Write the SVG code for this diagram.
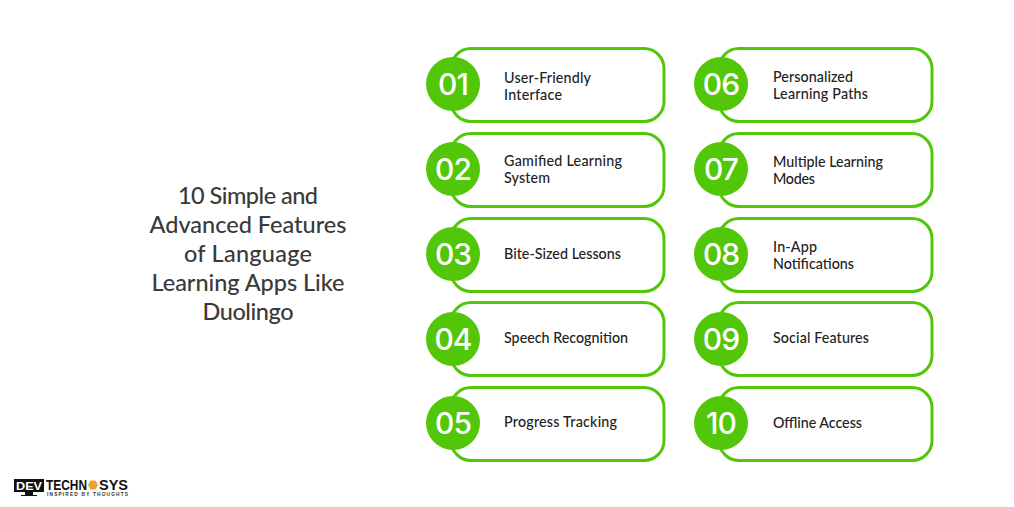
<svg xmlns="http://www.w3.org/2000/svg" width="1014" height="507" viewBox="0 0 1014 507">
<style>
.card{fill:#fff;stroke:#52c70a;stroke-width:3}
.dot{fill:#52c70a}
.num{font:500 30px Inter,"Noto Sans",sans-serif;letter-spacing:-1px;fill:#fff;text-anchor:middle}
.lbl{font:500 14.3px Lato,"Noto Sans",sans-serif;fill:#222}
.ttl{font:500 23.500px Lato,"Noto Sans",sans-serif;fill:#3a3a3a;text-anchor:middle}
.lg{font-family:"Liberation Sans",sans-serif;font-size:14px;font-weight:700;fill:#111}
</style>
<rect width="1014" height="507" fill="#fff"/>
<g id="title"><text class="ttl" x="248" y="204" textLength="140">10 Simple and</text><text class="ttl" x="248" y="233" textLength="197">Advanced Features</text><text class="ttl" x="248" y="262" textLength="128">of Language</text><text class="ttl" x="248" y="291" textLength="193">Learning Apps Like</text><text class="ttl" x="248" y="320" textLength="91">Duolingo</text></g>
<g id="n01"><rect class="card" x="451" y="48.500" width="213" height="73" rx="20"/><circle class="dot" cx="453" cy="84" r="27"/><text class="num" x="453" y="95">01</text><text class="lbl" x="504" y="83" textLength="87">User-Friendly</text><text class="lbl" x="504" y="100" textLength="58">Interface</text></g>
<g id="n02"><rect class="card" x="451" y="133.500" width="213" height="73" rx="20"/><circle class="dot" cx="453" cy="169" r="27"/><text class="num" x="453" y="180">02</text><text class="lbl" x="504" y="166" textLength="118">Gamified Learning</text><text class="lbl" x="504" y="183" textLength="46">System</text></g>
<g id="n03"><rect class="card" x="451" y="218.500" width="213" height="73" rx="20"/><circle class="dot" cx="453" cy="254" r="27"/><text class="num" x="453" y="265">03</text><text class="lbl" x="504" y="259" textLength="117">Bite-Sized Lessons</text></g>
<g id="n04"><rect class="card" x="451" y="302.500" width="213" height="73" rx="20"/><circle class="dot" cx="453" cy="339" r="27"/><text class="num" x="453" y="350">04</text><text class="lbl" x="504" y="343" textLength="124">Speech Recognition</text></g>
<g id="n05"><rect class="card" x="451" y="387.500" width="213" height="73" rx="20"/><circle class="dot" cx="453" cy="423" r="27"/><text class="num" x="453" y="434">05</text><text class="lbl" x="504" y="427" textLength="113">Progress Tracking</text></g>
<g id="n06"><rect class="card" x="719" y="48.500" width="213" height="73" rx="20"/><circle class="dot" cx="721" cy="84" r="27"/><text class="num" x="721" y="95">06</text><text class="lbl" x="773" y="82" textLength="80">Personalized</text><text class="lbl" x="773" y="99" textLength="95">Learning Paths</text></g>
<g id="n07"><rect class="card" x="719" y="133.500" width="213" height="73" rx="20"/><circle class="dot" cx="721" cy="169" r="27"/><text class="num" x="721" y="180">07</text><text class="lbl" x="773" y="167" textLength="110">Multiple Learning</text><text class="lbl" x="773" y="184" textLength="42">Modes</text></g>
<g id="n08"><rect class="card" x="719" y="218.500" width="213" height="73" rx="20"/><circle class="dot" cx="721" cy="254" r="27"/><text class="num" x="721" y="265">08</text><text class="lbl" x="773" y="252" textLength="44">In-App</text><text class="lbl" x="773" y="269" textLength="81">Notifications</text></g>
<g id="n09"><rect class="card" x="719" y="302.500" width="213" height="73" rx="20"/><circle class="dot" cx="721" cy="339" r="27"/><text class="num" x="721" y="350">09</text><text class="lbl" x="773" y="343" textLength="96">Social Features</text></g>
<g id="n10"><rect class="card" x="719" y="387.500" width="213" height="73" rx="20"/><circle class="dot" cx="721" cy="423" r="27"/><text class="num" x="721" y="434">10</text><text class="lbl" x="773" y="428" textLength="89">Offline Access</text></g>
<g id="logo"><path d="M14 479h30v13H33v3h4v1H21v-1h4v-3H14z" fill="#111"/><text x="29" y="490" font-family="Liberation Sans,sans-serif" font-weight="700" font-size="11.500" fill="#fff" text-anchor="middle" textLength="26" lengthAdjust="spacingAndGlyphs">DEV</text><text class="lg" x="46" y="490" textLength="41" lengthAdjust="spacingAndGlyphs">TECHN</text><path d="M88 485l2.500-4.500h5l2.500 4.500-2.500 4.500h-5z" fill="#f0a030"/><text class="lg" x="99" y="490" textLength="29" lengthAdjust="spacingAndGlyphs">SYS</text><text x="47" y="495.500" font-family="Liberation Sans,sans-serif" font-weight="700" font-size="4.800" fill="#333" textLength="81">INSPIRED BY THOUGHTS</text></g>
</svg>
